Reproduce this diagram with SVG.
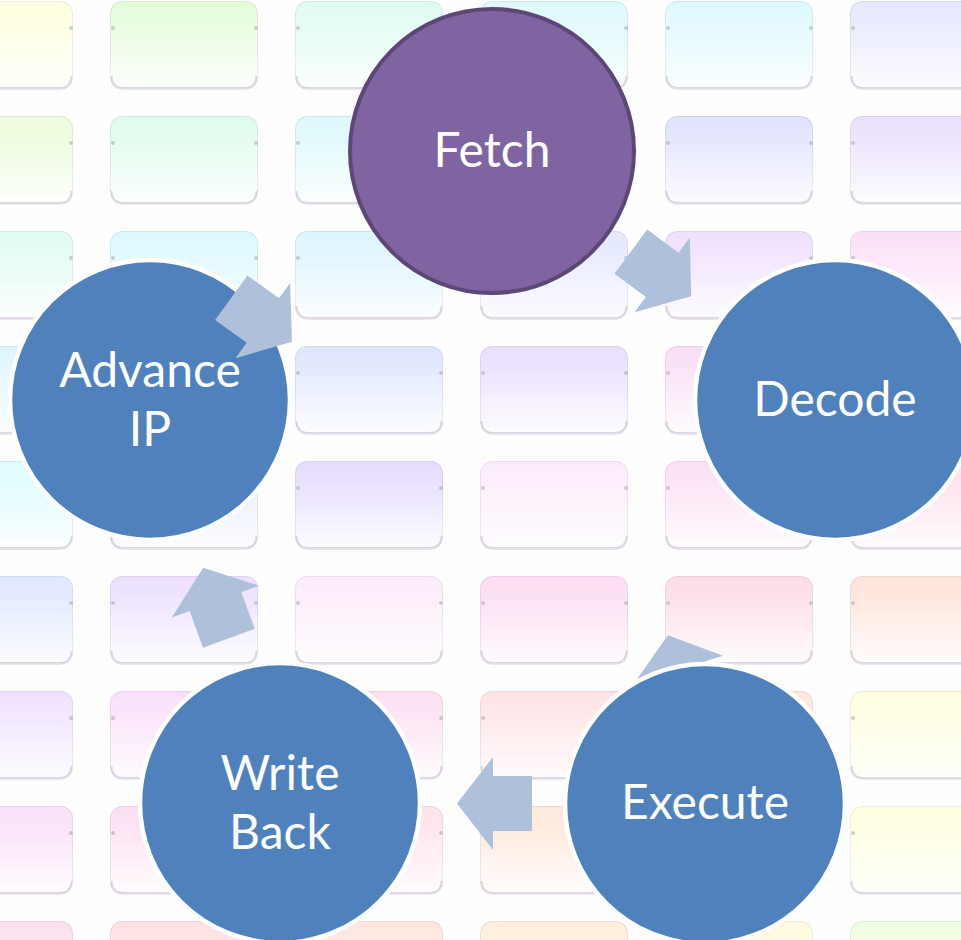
<svg xmlns="http://www.w3.org/2000/svg" width="961" height="940" viewBox="0 0 961 940">
  <defs>
    <style>
      .blue { fill: #4F81BD; stroke: #FFFFFF; stroke-width: 4.5; }
      .purple { fill: #8064A2; stroke: #5C4776; stroke-width: 4; }
      .lbl { font-family: "Lato", "Open Sans", "Liberation Sans", sans-serif; font-size: 48px; fill: #FFFFFF; text-anchor: middle; }
      .arrow { fill: #AFC0DB; }
    </style>
    <rect id="t" x="0" y="0" width="148" height="87" rx="12"/>
    <linearGradient id="fadeW" x1="0" y1="0" x2="0" y2="1">
      <stop offset="0" stop-color="#FFFFFF" stop-opacity="0"/>
      <stop offset="0.25" stop-color="#FFFFFF" stop-opacity="0.15"/>
      <stop offset="1" stop-color="#FFFFFF" stop-opacity="0.9"/>
    </linearGradient>
    <pattern id="tileFade" patternUnits="userSpaceOnUse" x="-75" y="1" width="185" height="115">
      <rect x="0" y="0" width="148" height="87" rx="12" fill="url(#fadeW)"/>
    </pattern>
    <pattern id="tileEdge" patternUnits="userSpaceOnUse" x="-75" y="0" width="185" height="115">
      <rect x="0.5" y="1.5" width="147" height="86" rx="12" fill="none" stroke="#8877AA" stroke-opacity="0.14"/>
      <path d="M1.5,76 Q1.5,88.5 14,88.5 L134,88.5 Q146.5,88.5 146.5,76" fill="none" stroke="#776688" stroke-opacity="0.2" stroke-width="2.5"/>
      <circle cx="3" cy="28" r="2" fill="#999999" fill-opacity="0.45"/>
      <circle cx="146" cy="28" r="2" fill="#999999" fill-opacity="0.45"/>
    </pattern>
    <path id="arr" d="M37.5,0 L1.5,46.5 L1.5,27.5 L-37.5,27.5 L-37.5,-27.5 L1.5,-27.5 L1.5,-46.5 Z"/>
  </defs>

  <g id="background">
    <rect x="0" y="0" width="961" height="940" fill="#FEFEFE"/>
    <g transform="translate(0,1)">
      <use href="#t" x="-75" fill="#FFFFE0"/><use href="#t" x="110" fill="#E4FCDA"/><use href="#t" x="295" fill="#E0FCF2"/><use href="#t" x="480" fill="#DEF9FC"/><use href="#t" x="665" fill="#DEF9FF"/><use href="#t" x="850" fill="#E6E8FF"/>
    </g>
    <g transform="translate(0,116)">
      <use href="#t" x="-75" fill="#ECFCDA"/><use href="#t" x="110" fill="#DEFCEC"/><use href="#t" x="295" fill="#DCF9FC"/><use href="#t" x="480" fill="#E2EEFF"/><use href="#t" x="665" fill="#E0E2FF"/><use href="#t" x="850" fill="#EAE0FF"/>
    </g>
    <g transform="translate(0,231)">
      <use href="#t" x="-75" fill="#E0FCF4"/><use href="#t" x="110" fill="#DCF9FF"/><use href="#t" x="295" fill="#DCF5FF"/><use href="#t" x="480" fill="#E4E8FF"/><use href="#t" x="665" fill="#F0E0FF"/><use href="#t" x="850" fill="#FCE0F6"/>
    </g>
    <g transform="translate(0,346)">
      <use href="#t" x="-75" fill="#DEF6FF"/><use href="#t" x="110" fill="#DEEEFF"/><use href="#t" x="295" fill="#DEE6FF"/><use href="#t" x="480" fill="#EADEFF"/><use href="#t" x="665" fill="#F8DEF6"/><use href="#t" x="850" fill="#FFE0EE"/>
    </g>
    <g transform="translate(0,461)">
      <use href="#t" x="-75" fill="#DEFCFF"/><use href="#t" x="110" fill="#E4ECFF"/><use href="#t" x="295" fill="#E6DCFF"/><use href="#t" x="480" fill="#FCECFA"/><use href="#t" x="665" fill="#FCE0F4"/><use href="#t" x="850" fill="#FFE0EC"/>
    </g>
    <g transform="translate(0,576)">
      <use href="#t" x="-75" fill="#E0E8FF"/><use href="#t" x="110" fill="#ECE0FF"/><use href="#t" x="295" fill="#FCECFA"/><use href="#t" x="480" fill="#FCDCF2"/><use href="#t" x="665" fill="#FCDCE8"/><use href="#t" x="850" fill="#FFE4DA"/>
    </g>
    <g transform="translate(0,691)">
      <use href="#t" x="-75" fill="#F0E2FF"/><use href="#t" x="110" fill="#FAE0FA"/><use href="#t" x="295" fill="#FCE0F2"/><use href="#t" x="480" fill="#FFE2E4"/><use href="#t" x="665" fill="#FFE8DE"/><use href="#t" x="850" fill="#FFFEE0"/>
    </g>
    <g transform="translate(0,806)">
      <use href="#t" x="-75" fill="#FAE0F8"/><use href="#t" x="110" fill="#FCE0F2"/><use href="#t" x="295" fill="#FFE2EA"/><use href="#t" x="480" fill="#FFE8DA"/><use href="#t" x="665" fill="#FFF2DA"/><use href="#t" x="850" fill="#FFFFE0"/>
    </g>
    <g transform="translate(0,921)">
      <use href="#t" x="-75" fill="#FCE0EE"/><use href="#t" x="110" fill="#FFE0E2"/><use href="#t" x="295" fill="#FFE6DE"/><use href="#t" x="480" fill="#FFEEDA"/><use href="#t" x="665" fill="#FFFADE"/><use href="#t" x="850" fill="#EEFEDE"/>
    </g>
    <rect x="0" y="0" width="961" height="940" fill="url(#tileFade)"/>
    <rect x="0" y="0" width="961" height="940" fill="url(#tileEdge)"/>
  </g>

  <g id="node-advance-ip">
    <circle class="blue" cx="150" cy="400" r="140"/>
    <text class="lbl" x="150" y="387">Advance</text>
    <text class="lbl" x="150" y="446">IP</text>
  </g>

  <g id="connectors">
    <use href="#arr" class="arrow" transform="translate(661,274) rotate(36.5)"/>
    <use href="#arr" class="arrow" transform="translate(679,671) rotate(-107.2)"/>
    <use href="#arr" class="arrow" transform="translate(494.5,803.5) rotate(180)"/>
    <use href="#arr" class="arrow" transform="translate(216,603) rotate(-110)"/>
    <use href="#arr" class="arrow" transform="translate(261.6,319.7) rotate(36)"/>
  </g>

  <g id="node-fetch">
    <circle class="purple" cx="492" cy="151" r="142"/>
    <text class="lbl" x="492" y="167">Fetch</text>
  </g>

  <g id="node-decode">
    <circle class="blue" cx="835" cy="400" r="140"/>
    <text class="lbl" x="835" y="416">Decode</text>
  </g>

  <g id="node-write-back">
    <circle class="blue" cx="280" cy="803" r="140"/>
    <text class="lbl" x="280" y="790">Write</text>
    <text class="lbl" x="280" y="849">Back</text>
  </g>

  <g id="node-execute">
    <circle class="blue" cx="705" cy="804" r="140"/>
    <text class="lbl" x="705" y="819">Execute</text>
  </g>
</svg>
